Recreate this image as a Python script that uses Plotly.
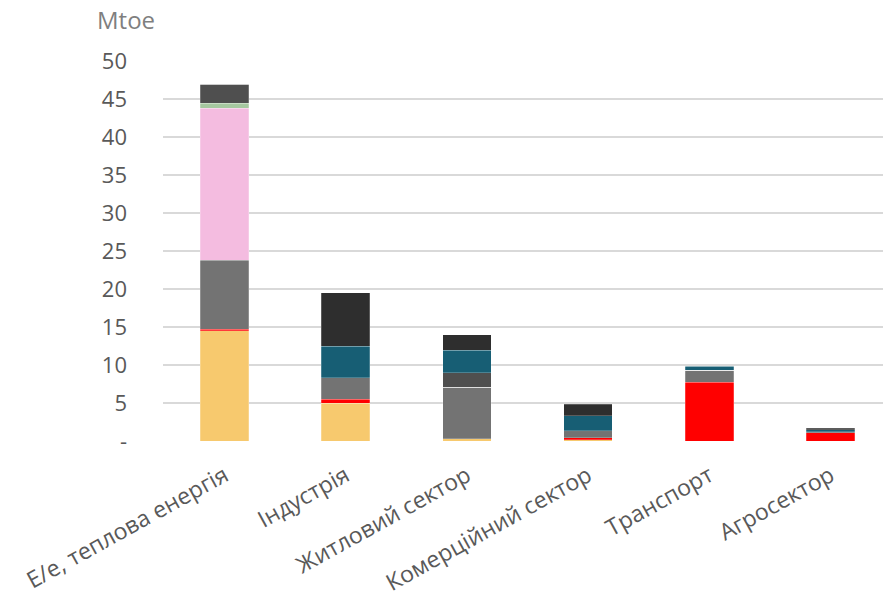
import plotly.graph_objects as go

categories = ["Е/е, теплова енергія", "Індустрія", "Житловий сектор",
              "Комерційний сектор", "Транспорт", "Агросектор"]

coal = [14.5, 5.0, 0.3, 0.15, 0.0, 0.0]
oil = [0.2, 0.5, 0.0, 0.3, 7.7, 1.1]
gas = [9.1, 2.8, 6.8, 0.8, 1.6, 0.1]
nuclear = [20.0, 0.0, 0.0, 0.0, 0.0, 0.0]
renewables = [0.65, 0.0, 0.0, 0.0, 0.0, 0.0]
biofuels = [2.5, 0.0, 1.85, 0.1, 0.0, 0.0]
electricity = [0.0, 4.2, 3.0, 2.0, 0.55, 0.3]
heat = [0.0, 7.0, 2.0, 1.5, 0.0, 0.2]

series = [
    ("Вугілля", coal, "#F7C96E"),
    ("Нафтопродукти", oil, "#FF0000"),
    ("Природний газ", gas, "#737373"),
    ("Атомна енергія", nuclear, "#F4BCE0"),
    ("ВДЕ", renewables, "#A6C8A0"),
    ("Біопаливо та відходи", biofuels, "#4F4F4F"),
    ("Електроенергія", electricity, "#175E74"),
    ("Теплова енергія", heat, "#2E2E2E"),
]

tick_vals = [0, 5, 10, 15, 20, 25, 30, 35, 40, 45, 50]
tick_text = ["-", "5", "10", "15", "20", "25", "30", "35", "40", "45", "50"]

fig = go.Figure()
xs = list(range(len(categories)))
for name, vals, color in series:
    fig.add_trace(go.Bar(
        x=xs, y=vals, name=name, width=0.4,
        marker=dict(color=color, line=dict(color="rgba(255,255,255,0.45)", width=0.5)),
    ))

font_family = "Open Sans, DejaVu Sans, sans-serif"

fig.update_layout(
    barmode="stack",
    width=883, height=609,
    margin=dict(l=163, r=0, t=61, b=168),
    plot_bgcolor="white", paper_bgcolor="white",
    showlegend=False,
    font=dict(family=font_family, color="#595959"),
    xaxis=dict(
        tickmode="array", tickvals=xs, ticktext=categories,
        range=[-0.507, 5.433], tickangle=-29,
        tickfont=dict(size=23, color="#595959"),
        showgrid=False, zeroline=False, showline=False, ticks="",
        ticklabelstandoff=16,
    ),
    yaxis=dict(
        range=[0, 50], tickmode="array", tickvals=tick_vals, ticktext=tick_text,
        tickfont=dict(size=22, color="#595959"),
        showgrid=True, gridcolor="#D9D9D9", gridwidth=1.5,
        zeroline=False, showline=False, ticks="", ticklabelstandoff=35,
    ),
    annotations=[dict(
        text="Mtoe", xref="paper", yref="paper", x=-0.008, y=1.108,
        xanchor="right", yanchor="middle", showarrow=False,
        font=dict(size=24, color="#7F7F7F", family=font_family),
    )],
)

fig.write_html("out.html")
